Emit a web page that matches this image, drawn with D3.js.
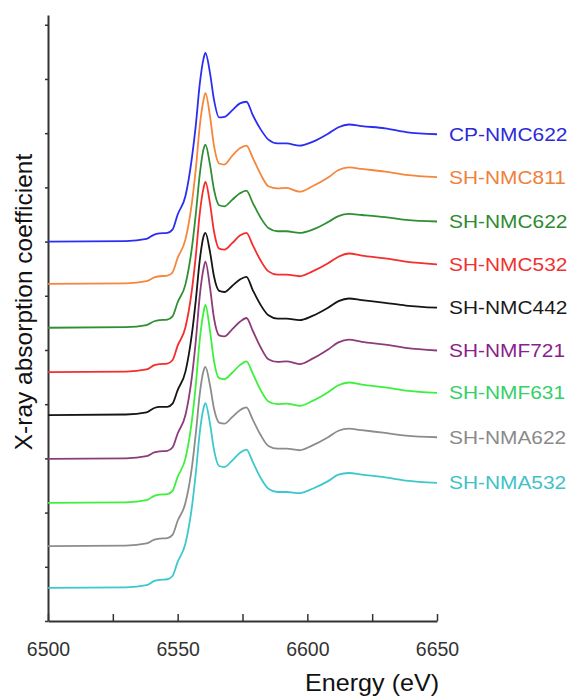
<!DOCTYPE html>
<html>
<head>
<meta charset="utf-8">
<script src="https://cdn.jsdelivr.net/npm/d3@7"></script>
<style>
body { margin: 0; background: #fff; }
svg { display: block; font-family: "Liberation Sans", Arial, sans-serif; }
</style>
</head>
<body>
<div id="chart"></div>
<script>
// energy grid (eV) shared by all spectra
const energy = [6500, 6530, 6538, 6541, 6543, 6546, 6548, 6550, 6553, 6555.5, 6557, 6558.5, 6560, 6560.7,
	6562.5, 6564, 6566, 6568, 6571, 6574, 6576.5, 6579, 6582, 6585, 6588.5, 6592, 6597, 6602, 6608,
	6612, 6616, 6621, 6630, 6638, 6650];

const names = ['CP-NMC622', 'SH-NMC811', 'SH-NMC622', 'SH-NMC532', 'SH-NMC442',
	'SH-NMF721', 'SH-NMF631', 'SH-NMA622', 'SH-NMA532'];
// vertical stacking offset of each spectrum
const offsets = [7.0, 6.22, 5.41, 4.59, 3.8, 2.99, 2.18, 1.38, 0.61];
const lineColors = ['#2b2ef2', '#f5873c', '#2f8f33', '#f52d2d', '#151515', '#8c3c78', '#3cf03c', '#8c8c8c', '#3cc8cc'];
const labelColors = ['#2a2ad8', '#f0803a', '#2e8b30', '#f03232', '#1a1a1a', '#8b1e8b', '#34d068', '#8a8a8a', '#40c2c8'];

// normalised absorption (above each baseline)
const cpNmc622 = [0, 0.01, 0.05, 0.13, 0.15, 0.16, 0.22, 0.50, 0.84, 1.55, 2.15, 2.90, 3.38, 3.48, 3.10, 2.62, 2.29, 2.30, 2.42, 2.55, 2.58, 2.33, 2.07, 1.88, 1.81, 1.81, 1.77, 1.84, 1.99, 2.11, 2.16, 2.13, 2.09, 2.02, 1.98];
const shNmc811 = [0, 0.01, 0.05, 0.12, 0.14, 0.15, 0.21, 0.48, 0.82, 1.50, 2.12, 2.90, 3.40, 3.52, 3.08, 2.55, 2.22, 2.20, 2.36, 2.50, 2.55, 2.32, 2.02, 1.80, 1.76, 1.77, 1.70, 1.80, 1.96, 2.10, 2.15, 2.12, 2.07, 2.01, 1.97];
const shNmc622 = [0, 0.01, 0.05, 0.12, 0.14, 0.15, 0.21, 0.47, 0.80, 1.48, 2.10, 2.82, 3.30, 3.38, 3.00, 2.55, 2.26, 2.24, 2.36, 2.48, 2.53, 2.30, 2.03, 1.84, 1.78, 1.78, 1.75, 1.81, 1.95, 2.06, 2.10, 2.08, 2.04, 1.99, 1.96];
const shNmc532 = [0, 0.01, 0.05, 0.13, 0.15, 0.16, 0.22, 0.49, 0.83, 1.52, 2.15, 2.92, 3.40, 3.51, 3.10, 2.60, 2.28, 2.26, 2.38, 2.52, 2.57, 2.34, 2.06, 1.86, 1.80, 1.80, 1.77, 1.86, 2.01, 2.13, 2.19, 2.15, 2.10, 2.04, 1.99];
const shNmc442 = [0, 0.01, 0.05, 0.13, 0.15, 0.15, 0.21, 0.46, 0.80, 1.50, 2.12, 2.85, 3.30, 3.36, 3.00, 2.56, 2.29, 2.27, 2.38, 2.50, 2.55, 2.30, 2.03, 1.84, 1.78, 1.78, 1.75, 1.83, 1.98, 2.10, 2.15, 2.12, 2.07, 2.02, 1.98];
const shNmf721 = [0, 0.01, 0.05, 0.12, 0.14, 0.15, 0.21, 0.47, 0.81, 1.52, 2.18, 3.00, 3.52, 3.64, 3.15, 2.60, 2.28, 2.26, 2.39, 2.53, 2.60, 2.36, 2.06, 1.84, 1.79, 1.80, 1.75, 1.85, 2.02, 2.15, 2.20, 2.16, 2.11, 2.05, 2.00];
const shNmf631 = [0, 0.01, 0.05, 0.13, 0.15, 0.16, 0.22, 0.48, 0.82, 1.52, 2.18, 3.00, 3.52, 3.65, 3.16, 2.62, 2.30, 2.28, 2.40, 2.54, 2.61, 2.38, 2.08, 1.87, 1.82, 1.83, 1.79, 1.88, 2.04, 2.17, 2.22, 2.18, 2.13, 2.07, 2.03];
const shNma622 = [0, 0.01, 0.05, 0.12, 0.14, 0.15, 0.21, 0.47, 0.80, 1.46, 2.08, 2.80, 3.24, 3.31, 2.96, 2.54, 2.28, 2.26, 2.38, 2.51, 2.56, 2.33, 2.05, 1.85, 1.80, 1.80, 1.77, 1.86, 2.01, 2.13, 2.17, 2.14, 2.09, 2.04, 2.01];
const shNma532 = [0, 0.01, 0.05, 0.13, 0.15, 0.16, 0.22, 0.48, 0.82, 1.50, 2.12, 2.86, 3.32, 3.41, 3.02, 2.55, 2.25, 2.23, 2.35, 2.49, 2.55, 2.32, 2.03, 1.83, 1.77, 1.77, 1.75, 1.83, 1.97, 2.09, 2.12, 2.09, 2.04, 1.98, 1.94];
const spectra = [cpNmc622, shNmc811, shNmc622, shNmc532, shNmc442, shNmf721, shNmf631, shNma622, shNma532];

const xTicks = [6500, 6525, 6550, 6575, 6600, 6625, 6650];
const xLabels = [6500, 6550, 6600, 6650];
const yTicks = [0, 1, 2, 3, 4, 5, 6, 7, 8, 9, 10, 11];

const width = 571, height = 696;
const margins = { top: 15, left: 48, right: 134, bottom: 75 };
const innerW = width - margins.left - margins.right;
const innerH = height - margins.top - margins.bottom;

const svg = d3.select('#chart').append('svg')
	.attr('width', width)
	.attr('height', height);

const g = svg.append('g')
	.attr('transform', `translate(${margins.left},${margins.top})`);

const x = d3.scaleLinear().domain([6500, 6650]).range([0, innerW]);
const y = d3.scaleLinear().domain([0, 11.18]).range([innerH, 0]);

// axes
const gx = g.append('g')
	.attr('transform', `translate(0,${innerH})`)
	.call(d3.axisBottom(x).tickValues(xTicks).tickSizeInner(-7).tickSizeOuter(0)
		.tickFormat(d => xLabels.includes(d) ? d : ''));
gx.selectAll('text')
	.attr('y', 35)
	.attr('dy', 0)
	.style('font-size', '19.5px')
	.style('fill', '#333');

const gy = g.append('g')
	.call(d3.axisLeft(y).tickValues(yTicks).tickSize(3).tickSizeOuter(0).tickFormat(''));

[gx, gy].forEach(a => {
	a.select('.domain').attr('stroke', '#333').attr('stroke-width', 2);
	a.selectAll('.tick line').attr('stroke', '#333').attr('stroke-width', 1.5);
});

// spectra
const line = d3.line()
	.x(d => x(d[0]))
	.y(d => y(d[1]))
	.curve(d3.curveMonotoneX);

spectra.forEach((s, i) => {
	const pts = energy.map((e, j) => [e, s[j] + offsets[i]]);
	g.append('path')
		.datum(pts)
		.attr('fill', 'none')
		.attr('stroke', lineColors[i])
		.attr('stroke-width', 1.8)
		.attr('stroke-linejoin', 'round')
		.attr('d', line);

	const last = pts[pts.length - 1];
	g.append('text')
		.attr('transform', `translate(${innerW + 12},${y(last[1])}) scale(1.13,1)`)
		.attr('dy', '0.36em')
		.style('font-size', '18.5px')
		.style('fill', labelColors[i])
		.text(names[i]);
});

// axis titles
svg.append('text')
	.attr('transform', `translate(305,691) scale(1.07,1)`)
	.style('font-size', '23.5px')
	.style('fill', '#111')
	.text('Energy (eV)');

svg.append('text')
	.attr('transform', `translate(32,302) rotate(-90)`)
	.attr('text-anchor', 'middle')
	.style('font-size', '24.5px')
	.style('fill', '#111')
	.text('X-ray absorption coefficient');
</script>
</body>
</html>
